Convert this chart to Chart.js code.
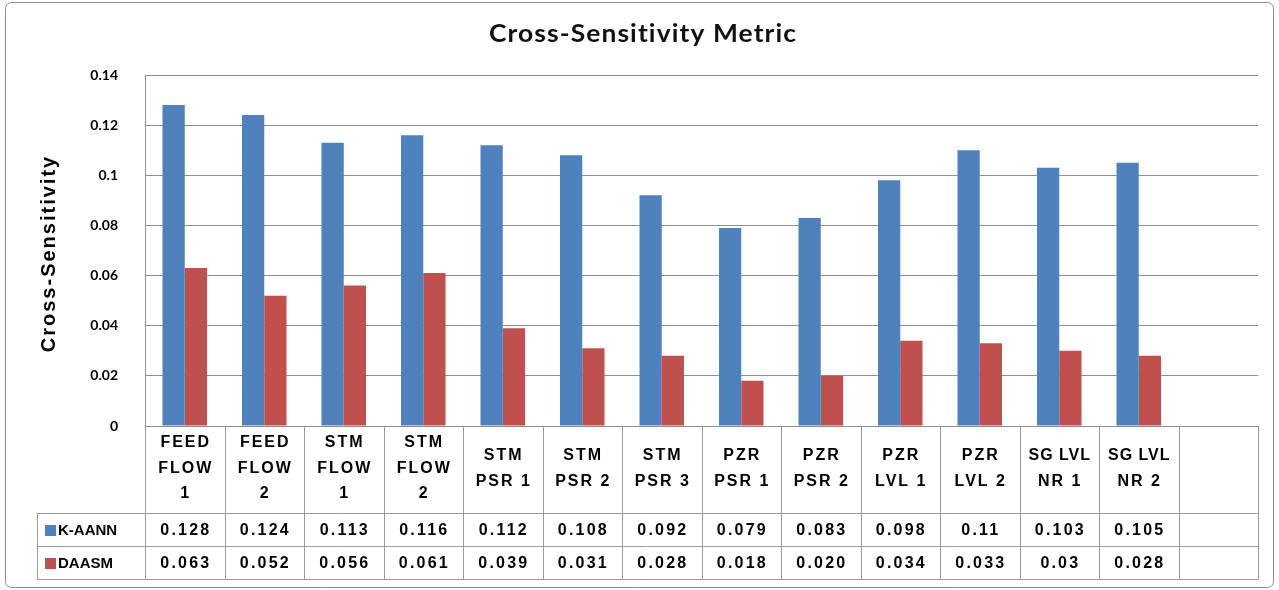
<!DOCTYPE html>
<html>
<head>
<meta charset="utf-8">
<title>Cross-Sensitivity Metric</title>
<script src="https://cdn.jsdelivr.net/npm/chart.js@4.4.1/dist/chart.umd.min.js"></script>
<style>
  html, body { margin: 0; padding: 0; background: #ffffff; }
  #wrap { position: relative; width: 1279px; height: 590px; }
  canvas { display: block; }
</style>
</head>
<body>
<div id="wrap"><canvas id="chart" width="1279" height="590"></canvas></div>
<script>
// Sensor channels (each entry is the wrapped header text of a table column)
const categories = [
  ['FEED', 'FLOW', '1'], ['FEED', 'FLOW', '2'],
  ['STM', 'FLOW', '1'], ['STM', 'FLOW', '2'],
  ['STM', 'PSR 1'], ['STM', 'PSR 2'], ['STM', 'PSR 3'],
  ['PZR', 'PSR 1'], ['PZR', 'PSR 2'],
  ['PZR', 'LVL 1'], ['PZR', 'LVL 2'],
  ['SG LVL', 'NR 1'], ['SG LVL', 'NR 2']
];

// Values as printed in the data table; bars are drawn from the same numbers
const kaannLabels = ['0.128', '0.124', '0.113', '0.116', '0.112', '0.108', '0.092', '0.079', '0.083', '0.098', '0.11', '0.103', '0.105'];
const daasmLabels = ['0.063', '0.052', '0.056', '0.061', '0.039', '0.031', '0.028', '0.018', '0.020', '0.034', '0.033', '0.03', '0.028'];
const kaannValues = kaannLabels.map(Number);
const daasmValues = daasmLabels.map(Number);

const seriesNames = ['K-AANN', 'DAASM'];
const seriesColors = ['#4F81BD', '#C0504D'];

const yTicks = [0, 0.02, 0.04, 0.06, 0.08, 0.1, 0.12, 0.14];

const chartTitle = 'Cross-Sensitivity Metric';
const yAxisTitle = 'Cross-Sensitivity';

// One trailing empty column, as in the spreadsheet table
const slotLabels = categories.map(c => c.join(' ')).concat(['']);

const GRID = '#8f8f8f';
const TABLE_LINE = '#9a9a9a';
const TABLE_FONT = '"Liberation Sans", Arial, sans-serif';

function textSpaced(ctx, str, cx, cy, spacing) {
  ctx.save();
  ctx.letterSpacing = spacing + 'px';
  ctx.textAlign = 'center';
  ctx.textBaseline = 'middle';
  ctx.fillText(str, cx + spacing / 2, cy);
  ctx.restore();
}

// Outer frame, titles and the data table under the plot
const decorations = {
  id: 'decorations',
  afterDraw(chart) {
    const { ctx, chartArea: a, scales: { x } } = chart;
    const n = slotLabels.length;
    const slot = (a.right - a.left) / n;

    const headerTop = a.bottom;
    const row1 = headerTop + 87;
    const row2 = row1 + 33;
    const tableBottom = row2 + 33;
    const tableLeft = 37;

    ctx.save();
    // frame
    ctx.strokeStyle = '#8c8c8c';
    ctx.lineWidth = 1;
    ctx.beginPath();
    ctx.roundRect(5.5, 2.5, 1268, 585, 6);
    ctx.stroke();

    // chart title, slightly widened
    ctx.save();
    ctx.translate(chart.width / 2 + 3, 34);
    ctx.scale(1.1, 1);
    ctx.fillStyle = '#111';
    ctx.font = 'bold 24px Lato, "Open Sans", sans-serif';
    textSpaced(ctx, chartTitle, 0, 0, 1);
    ctx.restore();

    // y-axis title
    ctx.save();
    ctx.translate(49, (a.top + a.bottom) / 2 + 4);
    ctx.rotate(-Math.PI / 2);
    ctx.fillStyle = '#000';
    ctx.font = 'bold 20px ' + TABLE_FONT;
    textSpaced(ctx, yAxisTitle, 0, 0, 2);
    ctx.restore();

    // table grid
    ctx.strokeStyle = TABLE_LINE;
    ctx.beginPath();
    [row1, row2, tableBottom].forEach(y => {
      ctx.moveTo(tableLeft, Math.round(y) + 0.5);
      ctx.lineTo(a.right, Math.round(y) + 0.5);
    });
    for (let i = 0; i <= n; i++) {
      const xx = Math.round(a.left + i * slot) + 0.5;
      ctx.moveTo(xx, headerTop);
      ctx.lineTo(xx, Math.round(tableBottom) + 0.5);
    }
    ctx.moveTo(tableLeft + 0.5, Math.round(row1) + 0.5);
    ctx.lineTo(tableLeft + 0.5, Math.round(tableBottom) + 0.5);
    ctx.stroke();

    // header text
    ctx.fillStyle = '#000';
    ctx.font = 'bold 16px ' + TABLE_FONT;
    const lh = 25.5;
    const headerMid = (headerTop + row1) / 2 - 1;
    categories.forEach((lines, i) => {
      const cx = x.getPixelForValue(i);
      const y0 = headerMid - (lines.length - 1) * lh / 2;
      lines.forEach((ln, k) => textSpaced(ctx, ln, cx, y0 + k * lh, ln.length > 5 ? 1 : 2));
    });

    // value rows with legend keys
    const rows = [kaannLabels, daasmLabels];
    const rowMids = [(row1 + row2) / 2 + 1, (row2 + tableBottom) / 2 + 1];
    rows.forEach((labels, r) => {
      const cy = rowMids[r];
      labels.forEach((t, i) => textSpaced(ctx, t, x.getPixelForValue(i), cy, 2.2));
      ctx.fillStyle = seriesColors[r];
      ctx.fillRect(45, Math.round(cy - 5.5), 11, 11);
      ctx.fillStyle = '#000';
      ctx.font = 'bold 15px ' + TABLE_FONT;
      ctx.textAlign = 'left';
      ctx.textBaseline = 'middle';
      ctx.fillText(seriesNames[r], 58, cy);
      ctx.font = 'bold 16px ' + TABLE_FONT;
    });
    ctx.restore();
  }
};

new Chart(document.getElementById('chart'), {
  type: 'bar',
  data: {
    labels: slotLabels,
    datasets: [
      { label: seriesNames[0], data: kaannValues, backgroundColor: seriesColors[0], borderWidth: 0 },
      { label: seriesNames[1], data: daasmValues, backgroundColor: seriesColors[1], borderWidth: 0 }
    ]
  },
  options: {
    responsive: false,
    devicePixelRatio: 1,
    animation: false,
    layout: { padding: { left: 0, right: 21, top: 75, bottom: 0 } },
    datasets: { bar: { categoryPercentage: 0.56, barPercentage: 1.0 } },
    plugins: {
      legend: { display: false },
      tooltip: { enabled: false },
      title: { display: false }
    },
    scales: {
      x: {
        ticks: { display: false },
        grid: { display: false, drawTicks: false },
        border: { display: false },
        afterFit(s) { s.height = 164; }
      },
      y: {
        min: 0,
        max: 0.14,
        afterBuildTicks(s) { s.ticks = yTicks.map(v => ({ value: v })); },
        ticks: {
          color: '#000',
          padding: 27,
          font: { family: 'Lato, sans-serif', size: 14, weight: 'bold' },
          callback: v => String(parseFloat(Number(v).toFixed(2)))
        },
        grid: { color: GRID, lineWidth: 1, drawTicks: false },
        border: { display: true, color: GRID },
        afterFit(s) { s.width = 145; }
      }
    }
  },
  plugins: [decorations]
});
</script>
</body>
</html>
